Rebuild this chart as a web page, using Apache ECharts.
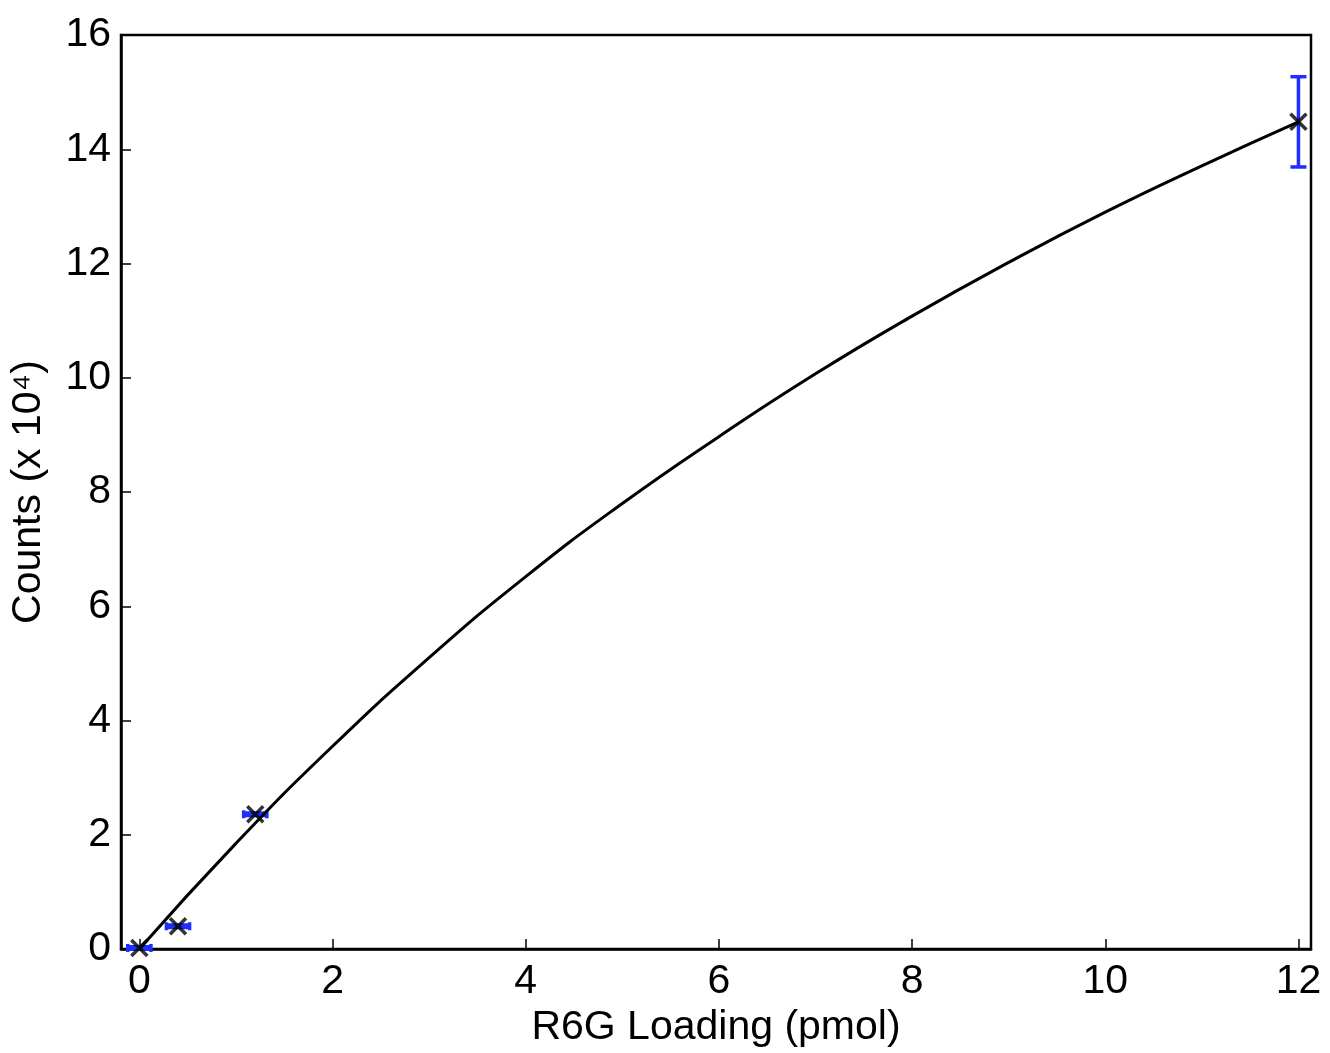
<!DOCTYPE html>
<html>
<head>
<meta charset="utf-8">
<script src="https://cdn.jsdelivr.net/npm/echarts@6/dist/echarts.min.js"></script>
<style>
  html, body { margin: 0; padding: 0; background: #fff; }
  #chart { width: 1330px; height: 1053px; }
</style>
</head>
<body>
<div id="chart"></div>
<script>
// measured points (R6G loading in pmol, counts x 10^4)
var loading = [0, 0.4, 1.2, 12];
var counts = [0.02, 0.4, 2.36, 14.48];
var xErr = [0.12, 0.12, 0.12, 0];
var yErr = [0, 0, 0, 0.79];

// fitted curve
var fitX = [0, 1, 2, 3, 4, 5, 6, 7, 8, 9, 10, 11, 12];
var fitY = [0, 1.85, 3.55, 5.1, 6.52, 7.8, 8.97, 10.07, 11.08, 12.02, 12.9, 13.71, 14.48];

var xTicks = [0, 2, 4, 6, 8, 10, 12];

var font = '"Liberation Sans", Arial, Helvetica, sans-serif';

var chart = echarts.init(document.getElementById('chart'));

var pts = loading.map(function (x, i) { return [x, counts[i]]; });
var errData = loading.map(function (x, i) { return [x, counts[i], xErr[i], yErr[i]]; });
var fitData = fitX.map(function (x, i) { return [x, fitY[i]]; });

var blue = '#1f2dff';

function renderErr(params, api) {
    var x = api.value(0), y = api.value(1), dx = api.value(2), dy = api.value(3);
    var kids = [];
    var st = { stroke: blue, lineWidth: 3.5 };
    if (dx > 0) {
        var l = api.coord([x - dx, y]), r = api.coord([x + dx, y]);
        kids.push({ type: 'line', shape: { x1: l[0], y1: l[1], x2: r[0], y2: r[1] }, style: { stroke: blue, lineWidth: 6 } });
        kids.push({ type: 'line', shape: { x1: l[0], y1: l[1] - 4, x2: l[0], y2: l[1] + 4 }, style: st });
        kids.push({ type: 'line', shape: { x1: r[0], y1: r[1] - 4, x2: r[0], y2: r[1] + 4 }, style: st });
    }
    if (dy > 0) {
        var t = api.coord([x, y + dy]), b = api.coord([x, y - dy]);
        kids.push({ type: 'line', shape: { x1: t[0], y1: t[1], x2: b[0], y2: b[1] }, style: st });
        kids.push({ type: 'line', shape: { x1: t[0] - 8, y1: t[1], x2: t[0] + 8, y2: t[1] }, style: st });
        kids.push({ type: 'line', shape: { x1: b[0] - 8, y1: b[1], x2: b[0] + 8, y2: b[1] }, style: st });
    }
    return { type: 'group', children: kids };
}

chart.setOption({
    animation: false,
    backgroundColor: '#fff',
    grid: {
        left: 121,
        right: 19,
        top: 35,
        bottom: 101,
        show: true,
        borderColor: '#000',
        borderWidth: 2.5
    },
    xAxis: {
        type: 'value',
        min: -0.19,
        max: 12.13,
        name: 'R6G Loading (pmol)',
        nameLocation: 'middle',
        nameGap: 54,
        nameTextStyle: { color: '#000', fontSize: 41, fontFamily: font },
        axisLine: { show: true, onZero: false, lineStyle: { color: '#000', width: 2.5 } },
        axisTick: { show: true, inside: true, length: 10, customValues: xTicks, lineStyle: { color: '#000', width: 1.5 } },
        axisLabel: { show: true, margin: 12, customValues: xTicks, color: '#000', fontSize: 41, fontFamily: font },
        splitLine: { show: false }
    },
    yAxis: {
        type: 'value',
        min: 0,
        max: 16,
        interval: 2,
        name: 'Counts (x 10\u2074)',
        nameLocation: 'middle',
        nameGap: 72,
        nameTextStyle: { color: '#000', fontSize: 41, fontFamily: font },
        axisLine: { show: true, onZero: false, lineStyle: { color: '#000', width: 2.5 } },
        axisTick: { show: true, inside: true, length: 10, lineStyle: { color: '#000', width: 1.5 } },
        axisLabel: { show: true, margin: 10, color: '#000', fontSize: 41, fontFamily: font },
        splitLine: { show: false }
    },
    series: [
        {
            type: 'custom',
            name: 'err',
            renderItem: renderErr,
            data: errData,
            z: 2,
            clip: false
        },
        {
            type: 'line',
            name: 'fit',
            data: fitData,
            smooth: true,
            showSymbol: false,
            lineStyle: { color: '#000', width: 3 },
            z: 3
        },
        {
            type: 'scatter',
            name: 'data',
            data: pts,
            symbol: 'path://M0,0L10,10M10,0L0,10',
            symbolSize: 16,
            itemStyle: { color: 'rgba(0,0,0,0)', borderColor: '#000', borderWidth: 3.5 },
            z: 4
        }
    ]
});
</script>
</body>
</html>
